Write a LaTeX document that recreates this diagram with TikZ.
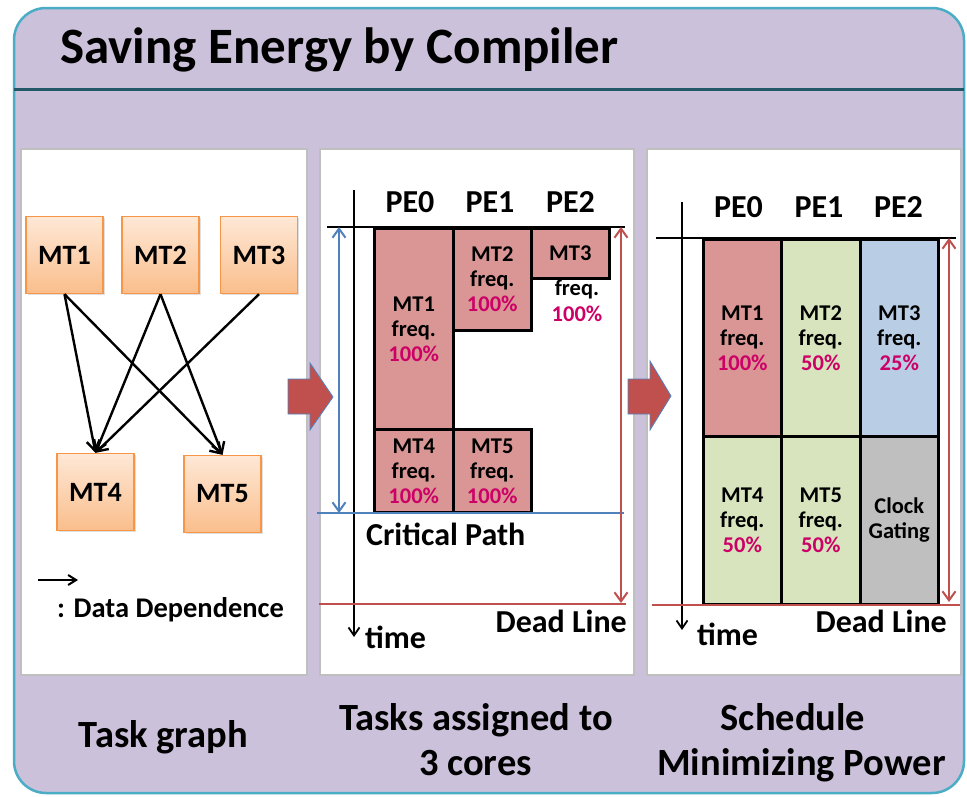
\documentclass[tikz,border=0pt]{standalone}
\usepackage{fontspec}
\setmainfont{Carlito}
\usetikzlibrary{arrows.meta,shadows}
\definecolor{bgl}{RGB}{204,193,218}
\definecolor{frame}{RGB}{75,172,198}
\definecolor{tline}{RGB}{33,89,104}
\definecolor{pgray}{RGB}{191,191,191}
\definecolor{ortop}{RGB}{254,232,214}
\definecolor{orbot}{RGB}{250,190,140}
\definecolor{orline}{RGB}{247,150,70}
\definecolor{redbox}{RGB}{217,150,148}
\definecolor{greenbox}{RGB}{215,228,189}
\definecolor{bluebox}{RGB}{185,205,229}
\definecolor{graybox}{RGB}{191,191,191}
\definecolor{pct}{RGB}{204,0,102}
\definecolor{bluel}{RGB}{79,129,189}
\definecolor{redl}{RGB}{192,80,77}
\tikzset{
  lbl/.style={inner sep=0pt, font=\bfseries\fontsize{32}{36}\selectfont},
  biglbl/.style={inner sep=0pt, font=\bfseries\fontsize{38.5}{44}\selectfont},
  panel/.style={fill=white, draw=pgray, line width=2pt},
  gbox/.style={draw=orline, line width=1.3pt, top color=ortop, bottom color=orbot,
    minimum width=77pt, minimum height=77pt, inner sep=0pt,
    font=\bfseries\fontsize{28}{30}\selectfont,
    drop shadow={shadow xshift=1.5pt, shadow yshift=-1.5pt, opacity=0.25}},
  tbox/.style={draw=black, line width=2.6pt, anchor=north west, inner sep=0pt,
    align=center, font=\bfseries\fontsize{22.5}{25}\selectfont},
  garrow/.style={-{Straight Barb[length=10pt,width=13pt]}, line width=2.4pt},
  dblarrow/.style={{Straight Barb[length=9pt,width=13pt]}-{Straight Barb[length=9pt,width=13pt]}, line width=2pt},
  timeaxis/.style={-{Straight Barb[length=8pt,width=11pt]}, line width=1.8pt},
  blockarrow/.style={fill=redl, draw=bluel, line width=0.8pt}
}
\begin{document}
\begin{tikzpicture}[x=1pt,y=-1pt]
\useasboundingbox (0,0) rectangle (967,796);
% outer frame
\draw[fill=bgl, draw=frame, line width=2.5pt, rounded corners=32pt] (14,8) rectangle (964,793);
\draw[tline, line width=3pt] (14,89) -- (964,89);
\node[inner sep=0pt, anchor=base west, font=\bfseries\fontsize{51}{56}\selectfont] (title) at (60,63) {Saving Energy by Compiler};

% panels
\draw[panel] (21,149) rectangle (307,675);
\draw[panel] (320,149) rectangle (634,675);
\draw[panel] (647,149) rectangle (961,675);

% ---------- panel 1: task graph
\node[gbox] (g1) at (64.5,255) {MT1};
\node[gbox] (g2) at (160.5,255) {MT2};
\node[gbox] (g3) at (259,255) {MT3};
\node[gbox] (g4) at (95.5,492) {MT4};
\node[gbox] (g5) at (222.5,494) {MT5};
\draw[garrow] (g1.south) -- (g4.north);
\draw[garrow] (g1.south) -- (g5.north);
\draw[garrow] (g2.south) -- (g4.north);
\draw[garrow] (g2.south) -- (g5.north);
\draw[garrow] (g3.south) -- (g4.north);
\coordinate (lgA) at (38,580);
\coordinate (lgB) at (78,580);
\draw[-{Straight Barb[length=8pt,width=10pt]}, line width=2pt] (lgA) -- (lgB);
\node[inner sep=0pt, anchor=base west, font=\bfseries\fontsize{28.5}{30}\selectfont] (legend) at (57,617) {: Data Dependence};

% ---------- panel 2: tasks assigned
\node[lbl, anchor=base] (ha0) at (410,212) {PE0};
\node[lbl, anchor=base] (ha1) at (490,212) {PE1};
\node[lbl, anchor=base] (ha2) at (570.5,212) {PE2};
\node[tbox, fill=redbox, minimum width=79pt, minimum height=201pt] (a1) at (373,227) {MT1\\freq.\\\textcolor{pct}{100\%}};
\node[tbox, fill=redbox, minimum width=78pt, minimum height=102pt] (a2) at (452,227) {MT2\\freq.\\\textcolor{pct}{100\%}};
\node[tbox, fill=redbox, minimum width=78pt, minimum height=50pt] (a3) at (530,227) {MT3};
\node[inner sep=0pt, align=center, font=\bfseries\fontsize{22.5}{26}\selectfont] (a3f) at (577,301) {freq.\\\textcolor{pct}{100\%}};
\node[tbox, fill=redbox, minimum width=79pt, minimum height=83pt] (a4) at (373,428) {MT4\\freq.\\\textcolor{pct}{100\%}};
\node[tbox, fill=redbox, minimum width=78pt, minimum height=83pt] (a5) at (452,428) {MT5\\freq.\\\textcolor{pct}{100\%}};
\coordinate (aTopL) at (327,227);
\coordinate (aTopR) at (625,227);
\draw[line width=2.2pt] (aTopL) -- (aTopR);
\coordinate (aTimeT) at (354,190);
\coordinate (aTimeB) at (354,637);
\draw[timeaxis] (aTimeT) -- (aTimeB);
\node[lbl, anchor=base west] (atime) at (365,648) {time};
\coordinate (aCpT) at (339,227);
\coordinate (aCpB) at (339,513);
\draw[dblarrow, bluel] (aCpT) -- (aCpB);
\coordinate (aCpL) at (317,513);
\coordinate (aCpR) at (624,513);
\draw[bluel, line width=2.2pt] (aCpL) -- (aCpR);
\node[lbl, anchor=base west] (acp) at (366,545) {Critical Path};
\coordinate (aDlT) at (621,227);
\coordinate (aDlB) at (621,603);
\draw[dblarrow, redl] (aDlT) -- (aDlB);
\coordinate (aDlL) at (319,604);
\coordinate (aDlR) at (626,604);
\draw[redl, line width=2.2pt] (aDlL) -- (aDlR);
\node[lbl, anchor=base east] (adl) at (627,632) {Dead Line};

% ---------- panel 3: schedule minimizing power
\node[lbl, anchor=base] (hb0) at (738.5,217) {PE0};
\node[lbl, anchor=base] (hb1) at (819,217) {PE1};
\node[lbl, anchor=base] (hb2) at (898.5,217) {PE2};
\node[tbox, fill=redbox, minimum width=78pt, minimum height=197pt] (b1) at (702,238) {MT1\\freq.\\\textcolor{pct}{100\%}};
\node[tbox, fill=greenbox, minimum width=79pt, minimum height=197pt] (b2) at (780,238) {MT2\\freq.\\\textcolor{pct}{50\%}};
\node[tbox, fill=bluebox, minimum width=78pt, minimum height=197pt] (b3) at (859,238) {MT3\\freq.\\\textcolor{pct}{25\%}};
\node[tbox, fill=greenbox, minimum width=78pt, minimum height=168pt] (b4) at (702,435) {MT4\\freq.\\\textcolor{pct}{50\%}};
\node[tbox, fill=greenbox, minimum width=79pt, minimum height=168pt] (b5) at (780,435) {MT5\\freq.\\\textcolor{pct}{50\%}};
\node[tbox, fill=graybox, minimum width=78pt, minimum height=168pt] (b6) at (859,435) {Clock\\Gating};
\coordinate (bTopL) at (656,238);
\coordinate (bTopR) at (956,238);
\draw[line width=2.2pt] (bTopL) -- (bTopR);
\coordinate (bTimeT) at (682,202);
\coordinate (bTimeB) at (682,630);
\draw[timeaxis] (bTimeT) -- (bTimeB);
\node[lbl, anchor=base west] (btime) at (697,645) {time};
\coordinate (bDlT) at (949,238);
\coordinate (bDlB) at (949,602);
\draw[dblarrow, redl] (bDlT) -- (bDlB);
\coordinate (bDlL) at (652,605);
\coordinate (bDlR) at (960,605);
\draw[redl, line width=2.2pt] (bDlL) -- (bDlR);
\node[lbl, anchor=base east] (bdl) at (947,632) {Dead Line};

% ---------- block arrows
\draw[blockarrow] (288,379) -- (310,379) -- (310,363) -- (333,397) -- (310,430) -- (310,414) -- (288,414) -- cycle;
\draw[blockarrow] (628,379) -- (650,379) -- (650,361) -- (671,396) -- (650,430) -- (650,414) -- (628,414) -- cycle;

% ---------- bottom captions
\node[biglbl, anchor=base] (c1) at (163.5,747) {Task graph};
\node[biglbl, anchor=base] (c2a) at (476,730) {Tasks assigned to};
\node[biglbl, anchor=base] (c2b) at (475.5,775) {3 cores};
\node[biglbl, anchor=base] (c3a) at (793,730) {Schedule};
\node[biglbl, anchor=base] (c3b) at (801.5,775) {Minimizing Power};
\end{tikzpicture}
\end{document}
